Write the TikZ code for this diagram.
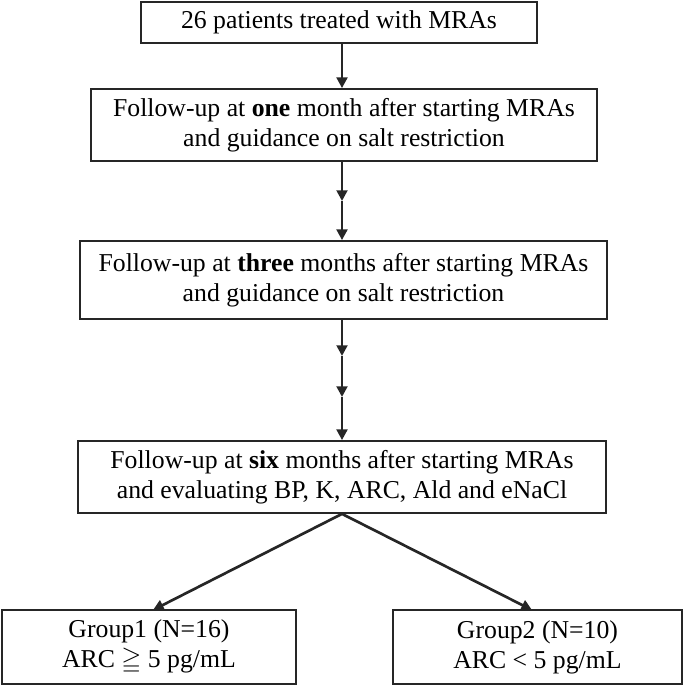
\documentclass[tikz,border=0pt]{standalone}
\usepackage{fontspec}
\setmainfont{Liberation Serif}
\usepackage{amssymb}
\usetikzlibrary{arrows.meta}
\begin{document}
\begin{tikzpicture}[x=0.75pt,y=-0.75pt,
  box/.style={draw=black!85, line width=1.3pt, align=center, inner sep=0pt,
    font=\fontsize{19.3}{22.5}\selectfont},
  arr/.style={draw=black!85, line width=2pt, -{Triangle[width=8pt,length=8pt]}}]
\useasboundingbox (0,0) rectangle (685,686);
\node[box, minimum width=297pt, minimum height=30.75pt] (b1) at (339,22.5)
  {26 patients treated with MRAs};
\node[box, minimum width=379.5pt, minimum height=54pt] (b2) at (344,125)
  {Follow-up at \textbf{one} month after starting MRAs\\and guidance on salt restriction};
\node[box, minimum width=395.25pt, minimum height=58.5pt] (b3) at (343.5,280)
  {Follow-up at \textbf{three} months after starting MRAs\\and guidance on salt restriction};
\node[box, minimum width=396pt, minimum height=54pt] (b4) at (342,477)
  {Follow-up at \textbf{six} months after starting MRAs\\and evaluating BP, K, ARC, Ald and eNaCl};
\node[box, minimum width=220.5pt, minimum height=55.5pt] (g1) at (149,647)
  {Group1 (N=16)\\ARC $\geqq$ 5 pg/mL};
\node[box, minimum width=216.75pt, minimum height=55.5pt] (g2) at (537.5,647)
  {Group2 (N=10)\\ARC < 5 pg/mL};
\coordinate (ax) at (342,0);
\coordinate (m1) at (342,201);
\coordinate (m2) at (342,356);
\coordinate (m3) at (342,397);
\coordinate (t1) at (153,610);
\coordinate (t2) at (532,610);
\draw[arr] (b1.south -| ax) -- (b2.north -| ax);
\draw[arr] (b2.south -| ax) -- (m1);
\draw[arr] (m1) -- (b3.north -| ax);
\draw[arr] (b3.south -| ax) -- (m2);
\draw[arr] (m2) -- (m3);
\draw[arr] (m3) -- (b4.north -| ax);
\draw[arr] (b4.south -| ax) -- (t1);
\draw[arr] (b4.south -| ax) -- (t2);
\end{tikzpicture}
\end{document}
